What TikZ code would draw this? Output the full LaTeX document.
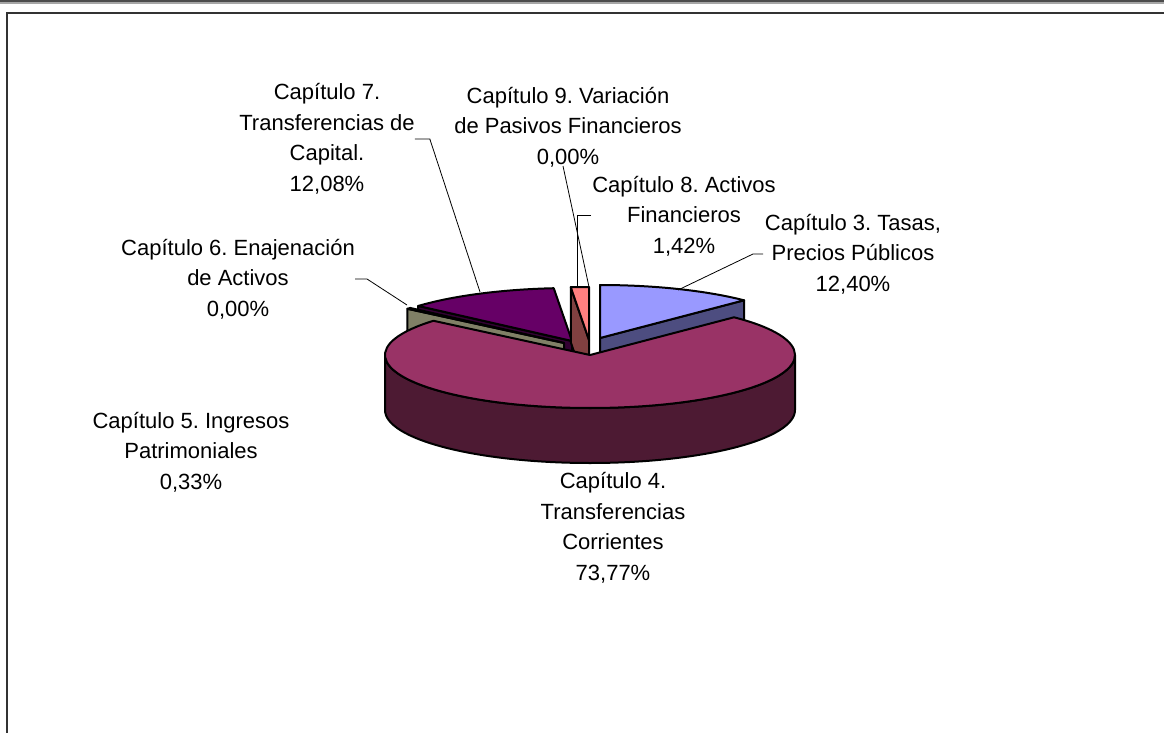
\documentclass[tikz,border=0pt]{standalone}
\usepackage{fontspec}
\setmainfont{Liberation Sans}
\usepackage{tikz}
\frenchspacing

\definecolor{chapthree}{HTML}{9999FF}
\definecolor{chapthreeside}{HTML}{4D4D80}
\definecolor{chapfour}{HTML}{993366}
\definecolor{chapfourside}{HTML}{4D1A33}
\definecolor{chapfive}{HTML}{FFFFCC}
\definecolor{chapfiveside}{HTML}{808066}
\definecolor{chapseven}{HTML}{660066}
\definecolor{chapsevenside}{HTML}{330033}
\definecolor{chapeight}{HTML}{FF8080}
\definecolor{chapeightside}{HTML}{804040}
\definecolor{framegray}{HTML}{333333}

\begin{document}
\begin{tikzpicture}[%
      x=1pt, y=-1pt,
      slice/.style={draw=black, line width=2pt, line join=round},
      leader/.style={draw=black, line width=0.8pt},
      chaplabel/.style={font=\fontsize{22}{30.5}\selectfont, align=center, inner sep=0pt},
      ]
      \useasboundingbox (0,0) rectangle (1164,733);

      % frame
      \fill [color=black!70] (0,0) rectangle (1164,2);
      \fill [color=black!35] (0,2) rectangle (1164,4);
      \draw [color=framegray, line width=2pt] (7,740) -- (7,13) -- (1170,13);

      % slice apexes
      \coordinate (c4) at (590,355);
      \coordinate (c5) at (564,343);
      \coordinate (c7) at (572,341);
      \coordinate (c8) at (589,340);
      \coordinate (c3) at (600,338);

      % back slices
      \filldraw [slice, fill=chapsevenside] (c7) -- ++(0,55) -- ++(-138.6:205 and 53) -- ++(0,-55) -- cycle;
      \filldraw [slice, fill=chapseven] (c7) -- ++(-138.6:205 and 53)
            arc[start angle=-138.6, end angle=-95.11, x radius=205, y radius=53] -- cycle;
      \filldraw [slice, fill=chapfiveside] (c5) -- ++(0,55) -- ++(-139.79:205 and 53) -- ++(0,-55) -- cycle;
      \filldraw [slice, fill=chapfive] (c5) -- ++(-139.79:205 and 53)
            arc[start angle=-139.79, end angle=-138.6, x radius=205, y radius=53] -- cycle;
      \filldraw [slice, fill=chapeightside] (c8) -- ++(0,55) -- ++(-95.11:205 and 53) -- ++(0,-55) -- cycle;
      \filldraw [slice, fill=chapeight] (c8) -- ++(-95.11:205 and 53)
            arc[start angle=-95.11, end angle=-90, x radius=205, y radius=53] -- cycle;
      \filldraw [slice, fill=chapthreeside] (c3) -- ++(0,55) -- ++(-45.36:205 and 53) -- ++(0,-55) -- cycle;
      \filldraw [slice, fill=chapthree] (c3) -- ++(-90:205 and 53)
            arc[start angle=-90, end angle=-45.36, x radius=205, y radius=53] -- cycle;

      % front slice
      \filldraw [slice, fill=chapfourside] (c4) ++(205,0)
            arc[start angle=0, end angle=180, x radius=205, y radius=53] -- ++(0,55)
            arc[start angle=180, end angle=0, x radius=205, y radius=53] -- cycle;
      \filldraw [slice, fill=chapfour] (c4) -- ++(-45.36:205 and 53)
            arc[start angle=-45.36, end angle=220.21, x radius=205, y radius=53] -- cycle;

      % labels
      \node [chaplabel] (lab7) at (327,139) {Capítulo 7.\\Transferencias de\\Capital.\\12,08\%};
      \node [chaplabel] (lab9) at (568,127) {Capítulo 9. Variación\\de Pasivos Financieros\\0,00\%};
      \node [chaplabel] (lab8) at (684,216) {Capítulo 8. Activos\\Financieros\\1,42\%};
      \node [chaplabel] (lab3) at (853,254) {Capítulo 3. Tasas,\\Precios Públicos\\12,40\%};
      \node [chaplabel] (lab6) at (238,279) {Capítulo 6. Enajenación\\de Activos\\0,00\%};
      \node [chaplabel] (lab5) at (191,452) {Capítulo 5. Ingresos\\Patrimoniales\\0,33\%};
      \node [chaplabel] (lab4) at (613,528) {Capítulo 4.\\Transferencias\\Corrientes\\73,77\%};

      % leader lines
      \coordinate (rim7) at (480,292);
      \coordinate (rim9) at (589,287);
      \coordinate (rim8) at (577,287);
      \coordinate (rim3) at (678,290);
      \coordinate (rim6) at (407,305);
      \coordinate (foot9) at (563,166);
      \coordinate (foot8) at (591,215);
      \coordinate (foot3) at (763,254);

      \draw [leader] (lab7.east) -- ++(15,0) -- (rim7);
      \draw [leader] (foot9) -- (rim9);
      \draw [leader] (foot8) -| (rim8);
      \draw [leader] (foot3) -- ++(-10,0) -- (rim3);
      \draw [leader] (lab6.east) -- ++(12,0) -- (rim6);
\end{tikzpicture}
\end{document}
